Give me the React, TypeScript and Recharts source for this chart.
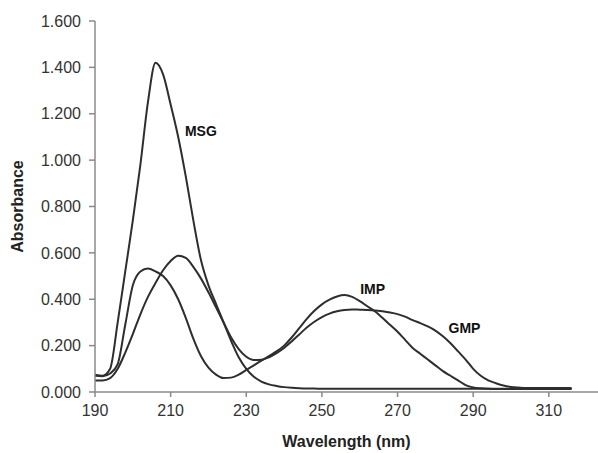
import { LineChart, Line, XAxis, YAxis, ReferenceDot } from 'recharts'

const wavelengths = [
  190, 192, 194, 196, 198, 200, 202, 204, 206, 208, 210, 212, 214, 216, 218, 220,
  222, 224, 226, 228, 230, 232, 234, 236, 238, 240, 242, 244, 246, 248, 250, 252,
  254, 256, 258, 260, 262, 264, 266, 268, 270, 272, 274, 276, 278, 280, 282, 284,
  286, 288, 290, 292, 294, 296, 298, 300, 302, 304, 306, 308, 310, 312, 314, 316,
]

const msg = [
  0.075, 0.07, 0.1, 0.3, 0.52, 0.74, 0.98, 1.25, 1.42, 1.37, 1.24, 1.1, 0.93, 0.74, 0.57, 0.46,
  0.38, 0.3, 0.22, 0.15, 0.1, 0.066, 0.045, 0.033, 0.026, 0.021, 0.018, 0.016, 0.015, 0.015, 0.014, 0.014,
  0.014, 0.014, 0.014, 0.014, 0.014, 0.014, 0.014, 0.014, 0.014, 0.014, 0.014, 0.014, 0.014, 0.014, 0.014, 0.014,
  0.014, 0.014, 0.014, 0.014, 0.014, 0.014, 0.014, 0.014, 0.014, 0.014, 0.014, 0.014, 0.014, 0.014, 0.014, 0.014,
]

const imp = [
  0.07, 0.068, 0.08, 0.12, 0.29, 0.46, 0.52, 0.533, 0.52, 0.5, 0.46, 0.4, 0.32, 0.23, 0.155, 0.105,
  0.075, 0.06, 0.062, 0.075, 0.095, 0.115, 0.135, 0.155, 0.175, 0.2, 0.235, 0.275, 0.315, 0.35, 0.378, 0.398,
  0.412, 0.418, 0.41, 0.392, 0.37, 0.348, 0.32, 0.29, 0.26, 0.225, 0.19, 0.165, 0.14, 0.115, 0.09, 0.07,
  0.05, 0.03, 0.02, 0.016, 0.014, 0.013, 0.013, 0.013, 0.013, 0.013, 0.013, 0.013, 0.013, 0.013, 0.013, 0.013,
]

const gmp = [
  0.05, 0.05, 0.06, 0.1, 0.17, 0.25, 0.335, 0.41, 0.47, 0.525, 0.565, 0.588, 0.578, 0.54, 0.49, 0.43,
  0.365, 0.3, 0.235, 0.185, 0.152, 0.138, 0.139, 0.15, 0.168, 0.19, 0.218, 0.248, 0.278, 0.303, 0.323, 0.338,
  0.348, 0.354, 0.356, 0.355, 0.354, 0.352, 0.348, 0.343, 0.336, 0.325, 0.31, 0.297, 0.283, 0.265, 0.24, 0.21,
  0.175, 0.14, 0.1, 0.07, 0.05, 0.038, 0.028, 0.022, 0.019, 0.017, 0.017, 0.017, 0.017, 0.017, 0.017, 0.017,
]

const xTicks = [190, 210, 230, 250, 270, 290, 310]
const yTicks = [0, 0.2, 0.4, 0.6, 0.8, 1.0, 1.2, 1.4, 1.6]

// curve names written next to the peaks, in data units
const seriesLabels = [
  { name: 'MSG', x: 218, y: 1.127 },
  { name: 'IMP', x: 263.4, y: 0.442 },
  { name: 'GMP', x: 287.7, y: 0.274 },
]

const data = wavelengths.map((w, i) => ({ w, msg: msg[i], imp: imp[i], gmp: gmp[i] }))

const FONT = 'Arial, "Liberation Sans", sans-serif'
const AXIS_COLOR = '#8a8a8a'
const LINE_COLOR = '#2e2e2e'
const TICK_STYLE = { fontSize: 16, fill: '#333', fontFamily: FONT }

export default function App() {
  return (
    <div style={{ position: 'absolute', left: 0, top: 0, background: '#fff' }}>
      <LineChart
        width={598}
        height={453}
        data={data}
        margin={{ top: 21, right: 0, left: 0, bottom: 6 }}
      >
        <XAxis
          dataKey="w"
          type="number"
          domain={[190, 323]}
          ticks={xTicks}
          allowDataOverflow
          height={55}
          tick={TICK_STYLE}
          tickSize={5}
          tickMargin={8}
          axisLine={{ stroke: AXIS_COLOR, strokeWidth: 1.5 }}
          tickLine={{ stroke: AXIS_COLOR, strokeWidth: 1.5 }}
          label={{
            value: 'Wavelength (nm)',
            position: 'insideBottom',
            offset: 0,
            style: { fontSize: 16, fontWeight: 'bold', fill: '#222', fontFamily: FONT },
          }}
        />
        <YAxis
          type="number"
          domain={[0, 1.6]}
          ticks={yTicks}
          width={95}
          tick={TICK_STYLE}
          tickSize={6}
          tickMargin={8}
          tickFormatter={(v: number) => v.toFixed(3)}
          axisLine={{ stroke: AXIS_COLOR, strokeWidth: 1.5 }}
          tickLine={{ stroke: AXIS_COLOR, strokeWidth: 1.5 }}
          label={{
            value: 'Absorbance',
            angle: -90,
            position: 'insideLeft',
            offset: 17,
            style: { fontSize: 16, fontWeight: 'bold', fill: '#222', fontFamily: FONT, textAnchor: 'middle' },
          }}
        />
        <Line type="monotone" dataKey="msg" stroke={LINE_COLOR} strokeWidth={2} dot={false} isAnimationActive={false} />
        <Line type="monotone" dataKey="imp" stroke={LINE_COLOR} strokeWidth={2} dot={false} isAnimationActive={false} />
        <Line type="monotone" dataKey="gmp" stroke={LINE_COLOR} strokeWidth={2} dot={false} isAnimationActive={false} />
        {seriesLabels.map((s) => (
          <ReferenceDot
            key={s.name}
            x={s.x}
            y={s.y}
            r={0}
            stroke="none"
            fill="none"
            label={{
              value: s.name,
              position: 'center',
              style: { fontSize: 14, fontWeight: 'bold', fill: '#111', fontFamily: FONT },
            }}
          />
        ))}
      </LineChart>
    </div>
  )
}
